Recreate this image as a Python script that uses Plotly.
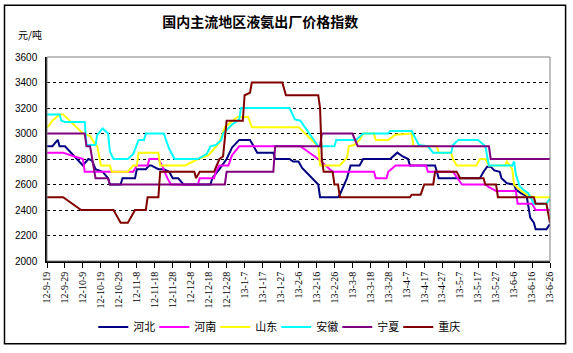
import pandas as pd
import plotly.graph_objects as go

# ---------------- data (day offsets from 2012-09-19, price in 元/吨) ----------------
start_date = "2012-09-19"

tick_labels = ["12-9-19", "12-9-29", "12-10-9", "12-10-19", "12-10-29", "12-11-8",
               "12-11-18", "12-11-28", "12-12-8", "12-12-18", "12-12-28", "13-1-7",
               "13-1-17", "13-1-27", "13-2-6", "13-2-16", "13-2-26", "13-3-8",
               "13-3-18", "13-3-28", "13-4-7", "13-4-17", "13-4-27", "13-5-7",
               "13-5-17", "13-5-27", "13-6-6", "13-6-16", "13-6-26"]

series_names = ["河北", "河南", "山东", "安徽", "宁夏", "重庆"]

hebei_day = [0, 3, 6, 7, 10, 20, 23, 25, 27, 31, 34, 35, 41, 42, 49, 50, 55, 57, 58, 62,
             65, 68, 70, 73, 76, 91, 92, 96, 100, 103, 107, 113, 115, 117, 126, 127, 135,
             137, 140, 142, 151, 152, 162, 163, 167, 169, 174, 176, 191, 194, 195, 198,
             201, 202, 211, 216, 218, 241, 243, 245, 247, 249, 252, 253, 256, 260, 261,
             264, 267, 268, 269, 271, 272, 278, 280]
hebei_val = [2900, 2900, 2950, 2900, 2900, 2750, 2800, 2790, 2720, 2700, 2650, 2600, 2600,
             2650, 2650, 2720, 2720, 2750, 2750, 2720, 2720, 2700, 2650, 2650, 2600, 2600,
             2650, 2720, 2800, 2890, 2950, 2950, 2900, 2850, 2850, 2800, 2800, 2780, 2780,
             2730, 2600, 2500, 2500, 2520, 2650, 2750, 2750, 2800, 2800, 2840, 2850, 2820,
             2800, 2750, 2750, 2750, 2650, 2650, 2700, 2740, 2740, 2710, 2700, 2650, 2610,
             2600, 2560, 2530, 2510, 2430, 2340, 2300, 2250, 2250, 2290]

henan_day = [0, 9, 14, 20, 21, 48, 50, 56, 57, 62, 64, 67, 69, 84, 85, 93, 94, 96, 101, 103,
             107, 141, 151, 159, 182, 183, 189, 190, 194, 211, 212, 216, 226, 231, 244, 246,
             250, 261, 262, 270, 272, 280]
henan_val = [2850, 2850, 2825, 2800, 2700, 2700, 2750, 2750, 2800, 2800, 2750, 2650, 2600,
             2600, 2650, 2650, 2700, 2750, 2750, 2830, 2900, 2900, 2800, 2700, 2700, 2650,
             2650, 2700, 2750, 2750, 2700, 2700, 2700, 2600, 2600, 2580, 2550, 2550, 2450,
             2450, 2400, 2400]

shandong_day = [0, 1, 3, 7, 9, 14, 20, 24, 27, 28, 30, 35, 36, 45, 48, 50, 51, 62, 63, 77,
                84, 90, 96, 99, 103, 106, 112, 114, 140, 151, 152, 163, 167, 168, 171, 174,
                176, 182, 183, 190, 194, 203, 204, 217, 218, 225, 226, 228, 239, 241, 244,
                246, 255, 256, 259, 260, 263, 268, 272, 280]
shandong_val = [3050, 3060, 3100, 3150, 3150, 3080, 3000, 2980, 2910, 2900, 2750, 2750, 2700,
                2700, 2750, 2750, 2850, 2850, 2750, 2750, 2800, 2830, 2930, 3050, 3100, 3130,
                3130, 3050, 3050, 2900, 2750, 2750, 2810, 2900, 2910, 2950, 3000, 3000, 2950,
                2950, 2990, 3000, 2900, 2900, 2850, 2850, 2800, 2750, 2750, 2800, 2800, 2750,
                2750, 2780, 2720, 2600, 2560, 2510, 2500, 2500]

anhui_day = [0, 7, 8, 10, 21, 22, 27, 28, 31, 34, 35, 37, 45, 48, 51, 54, 55, 65, 68, 71,
             84, 89, 91, 94, 97, 98, 103, 107, 108, 135, 138, 141, 151, 160, 161, 172, 176,
             190, 191, 203, 207, 212, 215, 225, 226, 229, 240, 244, 246, 259, 260, 261, 263,
             265, 268, 271, 278, 280]
anhui_val = [3150, 3150, 3100, 3090, 3090, 2910, 2910, 2990, 3040, 3000, 2860, 2800, 2800,
             2840, 2950, 2950, 3000, 3000, 2880, 2800, 2800, 2840, 2900, 2910, 2950, 3000,
             3070, 3110, 3200, 3200, 3110, 3100, 2900, 2900, 2950, 2950, 3000, 3000, 3020,
             3020, 2910, 2900, 2850, 2850, 2910, 2950, 2950, 2900, 2750, 2750, 2780, 2680,
             2590, 2560, 2530, 2450, 2450, 2490]

ningxia_day = [0, 21, 22, 24, 27, 34, 35, 99, 100, 126, 127, 152, 153, 170, 173, 246, 247, 280]
ningxia_val = [3000, 3000, 2900, 2900, 2650, 2650, 2600, 2600, 2700, 2700, 2900, 2900, 3000,
               3000, 2900, 2900, 2800, 2800]

chongqing_day = [0, 9, 19, 37, 41, 45, 49, 55, 56, 62, 63, 82, 83, 85, 93, 96, 98, 100, 109,
                 110, 113, 114, 131, 133, 151, 152, 153, 154, 159, 160, 162, 163, 202, 203,
                 208, 210, 215, 216, 228, 230, 243, 244, 250, 251, 271, 272, 278, 280]
chongqing_val = [2500, 2500, 2400, 2400, 2300, 2300, 2400, 2400, 2500, 2500, 2700, 2700, 2650,
                 2700, 2700, 2800, 2820, 3100, 3100, 3300, 3320, 3400, 3400, 3300, 3300, 3200,
                 2800, 2700, 2700, 2600, 2600, 2500, 2500, 2520, 2520, 2600, 2600, 2700, 2700,
                 2650, 2650, 2600, 2600, 2500, 2500, 2450, 2450, 2300]

series_days = [hebei_day, henan_day, shandong_day, anhui_day, ningxia_day, chongqing_day]
series_vals = [hebei_val, henan_val, shandong_val, anhui_val, ningxia_val, chongqing_val]
colors = ["#000080", "#FF00FF", "#FFFF00", "#00FFFF", "#800080", "#800000"]

# ---------------- figure ----------------
t0 = pd.Timestamp(start_date)


def to_dates(days):
    return [t0 + pd.Timedelta(days=d) for d in days]


def label_to_date(lbl):
    y, m, d = lbl.split("-")
    return pd.Timestamp(year=2000 + int(y), month=int(m), day=int(d))


tick_vals = [label_to_date(s) for s in tick_labels]

fig = go.Figure()
for name, days, vals, col in zip(series_names, series_days, series_vals, colors):
    fig.add_trace(go.Scatter(x=to_dates(days), y=vals, mode="lines", name=name,
                             line=dict(color=col, width=2)))
# empty spacer entry so the last legend label is not clipped by the fixed entry width
fig.add_trace(go.Scatter(x=[None], y=[None], mode="lines", name=" ",
                         line=dict(color="rgba(0,0,0,0)", width=0), hoverinfo="skip"))

fig.update_xaxes(type="date", range=[tick_vals[0], tick_vals[-1]],
                 tickmode="array", tickvals=tick_vals, ticktext=tick_labels,
                 tickangle=-90, ticks="outside", ticklen=5, tickcolor="black",
                 showline=True, linecolor="black", linewidth=1.5,
                 showgrid=False, zeroline=False,
                 tickfont=dict(family="Liberation Serif", size=10, color="black"))
fig.update_yaxes(range=[2000, 3600], dtick=200, tick0=2000,
                 showline=True, linecolor="black", linewidth=1.5,
                 showgrid=True, gridcolor="black", gridwidth=1, griddash="3px,3px",
                 zeroline=False, ticks="", ticklabelstandoff=6,
                 tickfont=dict(family="Liberation Sans", size=10, color="black"))

fig.update_layout(
    width=573, height=353,
    margin=dict(l=47, r=23, t=57, b=90),
    paper_bgcolor="white", plot_bgcolor="white",
    title=dict(text="<b>国内主流地区液氨出厂价格指数</b>", x=0.454, xanchor="center",
               y=0.936, yanchor="middle",
               font=dict(family="Noto Sans CJK SC", size=14, color="black")),
    legend=dict(orientation="h", x=0.092, xanchor="left", y=-0.324, yanchor="middle",
                font=dict(family="Noto Sans CJK SC", size=11, color="black"),
                itemwidth=30, entrywidth=16, entrywidthmode="pixels",
                bgcolor="rgba(0,0,0,0)"),
    annotations=[dict(text="元/吨", xref="paper", yref="paper", x=-0.034, y=1.108,
                      showarrow=False, xanchor="center", yanchor="middle",
                      font=dict(family="Noto Sans CJK SC", size=10, color="black"))],
    shapes=[
        dict(type="rect", xref="paper", yref="paper", x0=0, x1=1, y0=0, y1=1,
             line=dict(color="#808080", width=1), layer="above"),
        dict(type="rect", xref="paper", yref="paper", x0=-0.0845, x1=1.031,
             y0=-0.406, y1=1.254, line=dict(color="black", width=1.5), layer="above"),
    ],
)

fig.write_html("out.html")
